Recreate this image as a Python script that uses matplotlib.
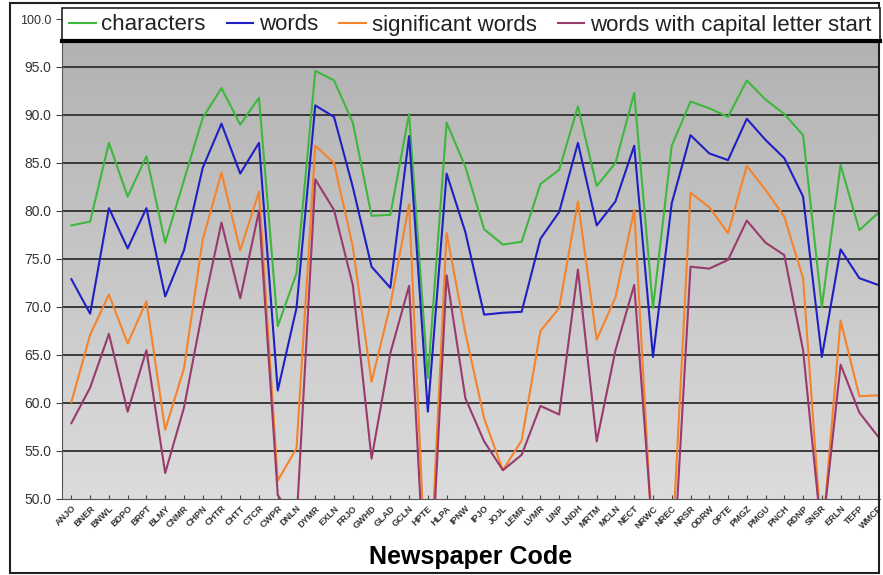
import numpy as np
import matplotlib
matplotlib.use("Agg")
import matplotlib.pyplot as plt
import matplotlib.transforms as mtransforms
from matplotlib.patches import Rectangle
from matplotlib.lines import Line2D

plt.rcParams['font.family'] = ['Liberation Sans', 'DejaVu Sans']

codes = ["ANJO", "BNER", "BNWL", "BDPO", "BRPT", "BLMY", "CNMR", "CHPN", "CHTR", "CHTT",
         "CTCR", "CWPR", "DNLN", "DYMR", "EXLN", "FRJO", "GWHD", "GLAD", "GCLN", "HPTE",
         "HLPA", "IPNW", "IPJO", "JOJL", "LEMR", "LVMR", "LINP", "LNDH", "MRTM", "MCLN",
         "NECT", "NRWC", "NREC", "NRSR", "ODRW", "OPTE", "PMGZ", "PMGU", "PNCH", "RDNP",
         "SNSR", "ERLN", "TEFP", "WMCF"]

characters = [78.5, 78.9, 87.1, 81.5, 85.7, 76.7, 83.2, 89.7, 92.8, 89.0,
              91.8, 68.0, 73.5, 94.6, 93.6, 89.2, 79.5, 79.6, 90.1, 62.6,
              89.2, 84.6, 78.1, 76.5, 76.8, 82.8, 84.3, 90.9, 82.6, 85.0,
              92.3, 69.9, 86.8, 91.4, 90.7, 89.8, 93.6, 91.6, 90.1, 87.9,
              70.0, 84.8, 78.0, 79.8]
words = [72.9, 69.3, 80.3, 76.1, 80.3, 71.1, 75.9, 84.5, 89.1, 83.9,
         87.1, 61.3, 69.9, 91.0, 89.8, 82.5, 74.2, 72.0, 87.8, 59.1,
         83.9, 77.8, 69.2, 69.4, 69.5, 77.1, 79.9, 87.1, 78.5, 81.0,
         86.8, 64.8, 80.8, 87.9, 86.0, 85.3, 89.6, 87.4, 85.5, 81.5,
         64.8, 76.0, 73.0, 72.3]
significant = [60.1, 67.1, 71.3, 66.2, 70.6, 57.2, 63.6, 77.0, 84.0, 75.9,
               82.0, 51.9, 55.3, 86.8, 85.0, 76.3, 62.2, 70.2, 80.7, 37.0,
               77.7, 67.3, 58.4, 53.0, 56.1, 67.5, 69.9, 81.0, 66.6, 71.0,
               80.1, 44.4, 44.0, 81.9, 80.4, 77.7, 84.7, 82.2, 79.4, 73.0,
               45.5, 68.6, 60.7, 60.8]
capital = [57.9, 61.6, 67.2, 59.1, 65.5, 52.7, 59.5, 69.7, 78.8, 70.9,
           80.0, 50.4, 47.5, 83.3, 80.1, 72.3, 54.2, 65.2, 72.2, 35.0,
           73.3, 60.5, 56.0, 53.0, 54.6, 59.7, 58.8, 73.9, 56.0, 65.5,
           72.3, 45.8, 39.6, 74.2, 74.0, 74.9, 79.0, 76.7, 75.4, 65.5,
           46.0, 64.0, 59.0, 56.5]

series = [("characters", characters, "#3db83d"),
          ("words", words, "#1f1fc4"),
          ("significant words", significant, "#f5832c"),
          ("words with capital letter start", capital, "#9a3a6c")]

W, H = 883, 575
fig = plt.figure(figsize=(W / 100, H / 100), dpi=100)

# outer chart border
fig.patches.append(Rectangle((10 / W, 2 / H), 869 / W, 570 / H, transform=fig.transFigure,
                             fill=False, edgecolor="#202020", linewidth=1.5))

ax = fig.add_axes([62 / W, 1 - 499 / H, 818 / W, 480 / H])
x = np.arange(len(codes))

# grey gradient background
grad = np.linspace(0, 1, 256).reshape(-1, 1)
ax.imshow(grad, cmap=plt.cm.colors.LinearSegmentedColormap.from_list("g", ["#dcdcdc", "#b0b0b0"]),
          extent=[0, 1, 0, 1], transform=ax.transAxes, aspect="auto", origin="lower", zorder=0)

for v in np.arange(55, 100.1, 5):
    ax.axhline(v, color="#3a3a3a", linewidth=1.4, zorder=1)

for name, vals, col in series:
    ax.plot(x, vals, color=col, linewidth=1.5, label=name, zorder=3)

ax.set_xlim(-0.5, 43.1)
ax.set_ylim(50, 100)
ax.set_yticks(np.arange(50, 100.1, 5))
ax.set_yticklabels([f"{v:.1f}" for v in np.arange(50, 100.1, 5)], fontsize=10, color="#333333")
ax.get_yticklabels()[-1].set_fontsize(9)
ax.set_xticks(x)
ax.set_xticklabels(codes, rotation=45, ha="right", rotation_mode="anchor",
                   fontsize=6.5, fontweight="bold", color="#333333")
shift = mtransforms.ScaledTranslation(-3 / 100, 0, fig.dpi_scale_trans)
for lab in ax.get_xticklabels():
    lab.set_transform(lab.get_transform() + shift)
ax.tick_params(axis="x", direction="in", length=3, color="#444444")
ax.tick_params(axis="y", direction="out", length=4, color="#444444")
for s in ["top", "right"]:
    ax.spines[s].set_visible(False)
ax.spines["left"].set_color("#555555")
ax.spines["bottom"].set_color("#555555")
ax.set_xlabel("Newspaper Code", fontsize=18, fontweight="bold")
ax.xaxis.set_label_coords(0.5, -0.095)

# legend box across the top
fig.patches.append(Rectangle((62 / W, 1 - 42 / H), 818 / W, 34 / H, transform=fig.transFigure,
                             facecolor="white", edgecolor="#222222", linewidth=1.2, zorder=5))
fig.lines.append(Line2D([62 / W, 880 / W], [1 - 41 / H, 1 - 41 / H], transform=fig.transFigure,
                        color="black", linewidth=3, zorder=6))
leg = fig.legend(loc="center left", bbox_to_anchor=(69 / W, 1 - 25 / H), ncol=4, frameon=False,
                 fontsize=16, handlelength=1.2, handletextpad=0.25, columnspacing=0.95,
                 borderaxespad=0, borderpad=0)
leg.set_zorder(7)
for t in leg.get_texts():
    t.set_color("#222222")

fig.savefig("out.png", dpi=100)
